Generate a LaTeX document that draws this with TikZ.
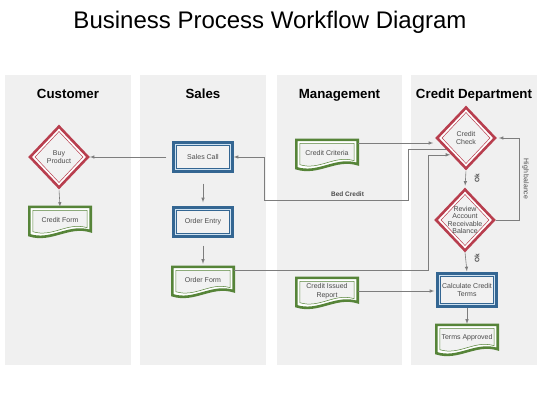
\documentclass[tikz,border=0pt]{standalone}
\usepackage{fontspec}
\setmainfont{Liberation Sans}
\usepackage{tikz}
\usetikzlibrary{calc}
\usetikzlibrary{shapes.geometric}

\definecolor{lanegray}{RGB}{240,240,240}
\definecolor{innergray}{RGB}{242,242,242}
\definecolor{decred}{RGB}{184,62,78}
\definecolor{procblue}{RGB}{52,102,146}
\definecolor{procgap}{RGB}{206,226,242}
\definecolor{docgreen}{RGB}{86,132,56}
\definecolor{wiregray}{RGB}{125,125,125}
\definecolor{txtgray}{RGB}{75,75,75}

\pgfdeclarelayer{lanes}
\pgfdeclarelayer{docs}
\pgfsetlayers{lanes,docs,main}

\newcommand{\docshape}[1]{%
  \draw[docgreen,line width=2.6pt,fill=white]
    (#1.north west) -- (#1.north east) -- ([yshift=2pt]#1.south east)
    .. controls +(-22pt,7pt) and +(22pt,-7pt) .. ([yshift=-2pt]#1.south west) -- cycle;
  \draw[docgreen,line width=0.5pt,fill=innergray]
    ([shift={(3.5pt,-3.5pt)}]#1.north west) -- ([shift={(-3.5pt,-3.5pt)}]#1.north east)
    -- ([shift={(-3.5pt,5.5pt)}]#1.south east)
    .. controls +(-20pt,6pt) and +(20pt,-6pt) .. ([shift={(3.5pt,1.5pt)}]#1.south west) -- cycle;}

\begin{document}
\begin{tikzpicture}[x=1pt,y=-1pt,>=latex,
    lane/.style={fill=lanegray,draw=none},
    lanehead/.style={font=\bfseries\fontsize{13.3}{16}\selectfont,anchor=base},
    proc/.style={rectangle,draw=procblue,line width=2.4pt,fill=procgap,
      minimum width=59pt,minimum height=29pt,align=center,text=txtgray,
      font=\fontsize{7}{8.4}\selectfont,
      path picture={\draw[procblue,line width=0.5pt,fill=innergray]
        ([shift={(3pt,3pt)}]path picture bounding box.south west) rectangle
        ([shift={(-3pt,-3pt)}]path picture bounding box.north east);}},
    dec/.style={diamond,draw=decred,line width=2.6pt,fill=white,
      minimum width=59pt,minimum height=62pt,inner sep=-10pt,align=center,
      text=txtgray,font=\fontsize{7}{7.6}\selectfont,
      path picture={\draw[decred,line width=0.5pt,fill=innergray]
        ([yshift=-5pt]path picture bounding box.north) --
        ([xshift=-5pt]path picture bounding box.east) --
        ([yshift=5pt]path picture bounding box.south) --
        ([xshift=5pt]path picture bounding box.west) -- cycle;}},
    doc/.style={rectangle,minimum width=61pt,minimum height=26pt,
      align=center,text=txtgray,font=\fontsize{7}{8.4}\selectfont},
    wire/.style={draw=wiregray,line width=0.6pt,->},
    tag/.style={font=\bfseries\fontsize{6.5}{8}\selectfont,text=txtgray}]
    \useasboundingbox (0,0) rectangle (540,405);
    \begin{pgfonlayer}{lanes}
    \fill[lane] (5,75) rectangle (131,365);
    \fill[lane] (140,75) rectangle (266,365);
    \fill[lane] (277,75) rectangle (402,365);
    \fill[lane] (411,75) rectangle (537,365);
    \end{pgfonlayer}
    \node[font=\fontsize{24}{28}\selectfont,anchor=base] (title) at (270,28.5) {Business Process Workflow Diagram};
    \node[lanehead] (hcust) at (68,98) {Customer};
    \node[lanehead] (hsales) at (203,98) {Sales};
    \node[lanehead] (hmgmt) at (339.5,98) {Management};
    \node[lanehead] (hcred) at (474,98) {Credit Department};
    \node[dec] (B) at (59,157) {Buy\\Product};
    \node[doc] (CF) at (60,220) {Credit Form};
    \node[proc] (SC) at (203,157) {Sales Call};
    \node[proc] (OE) at (203,222) {Order Entry};
    \node[doc] (OF) at (203,280) {Order Form};
    \node[doc] (CR) at (327,153) {Credit Criteria};
    \node[doc] (CI) at (327,291) {Credit Issued\\Report};
    \node[dec] (CC) at (466,138) {Credit\\Check};
    \node[dec] (RA) at (465,220) {Review\\Account\\Receivable\\Balance};
    \node[proc,minimum height=33pt] (CT) at (467,290) {Calculate Credit\\Terms};
    \node[doc] (TA) at (467,338) {Terms Approved};
    \begin{pgfonlayer}{docs}
    \foreach \d in {CF,OF,CR,CI,TA} {\docshape{\d}}
    \end{pgfonlayer}
    \coordinate (cc1) at ($(CC.west)!0.35!(CC.south)$);
    \coordinate (cc2) at ($(CC.west)!0.52!(CC.south)$);
    \coordinate (cr1) at ([yshift=10pt]CR.east);
    \coordinate (of1) at ([yshift=10pt]OF.east);
    \draw[wire,shorten <=6pt] (SC.west) -- (B.east);
    \draw[wire,shorten <=1pt] (B.south) -- (CF.north);
    \draw[wire,shorten <=11pt,shorten >=4pt] (SC.south) -- (OE.north);
    \draw[wire,shorten <=8pt,shorten >=3pt] (OE.south) -- (OF.north);
    \draw[wire] (cc1) -| (408,200) -- node[tag,above,pos=0.42] (bed) {Bed Credit} (264,200) |- (SC.east);
    \draw[wire,shorten >=2pt] (cr1) -- (cr1 -| CC.west);
    \draw[wire,shorten >=1pt] (of1) -| ([xshift=-23pt]cc2) -- (cc2);
    \draw[wire,shorten >=2pt] (CI.east) -- (CI.east -| CT.west);
    \draw[wire,shorten <=1pt,shorten >=2pt] (CC.south) -- (RA.north);
    \draw[wire,shorten >=1pt] (RA.south) -- (CT.north);
    \draw[wire,shorten >=1pt] (CT.south) -- (TA.north);
    \draw[wire,shorten >=2pt] (RA.east) -- ([xshift=23pt]RA.east) |- node[pos=0.25,anchor=south,rotate=-90,font=\fontsize{6.9}{8}\selectfont,text=txtgray] (hb) {High balance} (CC.east);
    \node[tag,rotate=90] (ok1) at (477,178) {Ok};
    \node[tag,rotate=90] (ok2) at (477,258) {Ok};
\end{tikzpicture}
\end{document}
